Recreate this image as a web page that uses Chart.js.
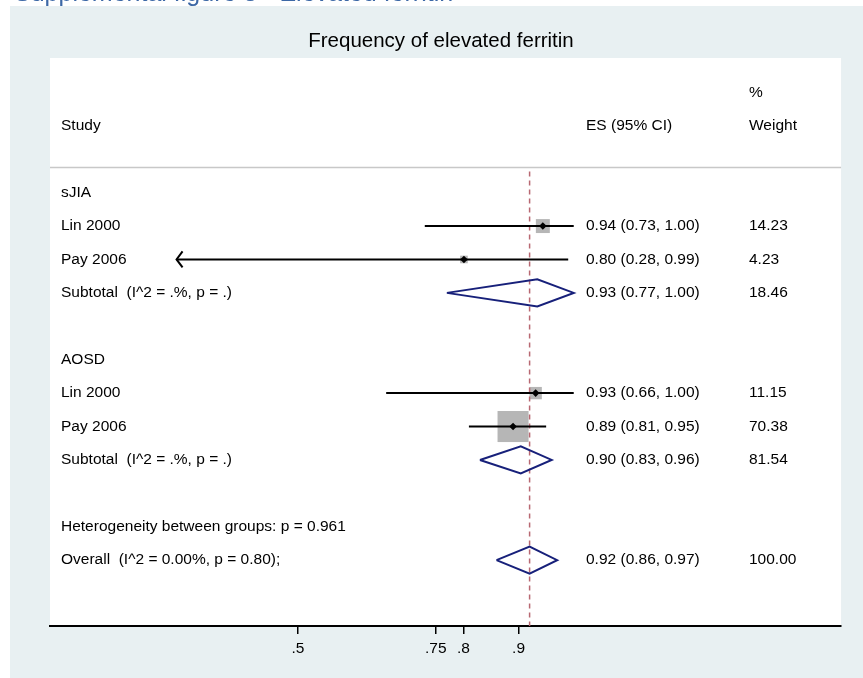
<!DOCTYPE html>
<html>
<head>
<meta charset="utf-8">
<script src="https://cdn.jsdelivr.net/npm/chart.js@4.4.0/dist/chart.umd.min.js"></script>
<style>
  html, body { margin: 0; padding: 0; background: #fff; }
  #wrap { width: 863px; height: 678px; }
</style>
</head>
<body>
<div id="wrap"><canvas id="forest"></canvas></div>
<script>
// data
const groups = ["sJIA", "AOSD"];
const studyNames = ["Lin 2000", "Pay 2006", "Lin 2000", "Pay 2006"];
const studyGroup = [0, 0, 1, 1];
const studyES = [0.944, 0.801, 0.931, 0.89];
const studyLo = [0.73, 0.28, 0.66, 0.81];
const studyHi = [1.0, 0.99, 1.0, 0.95];
const studyWeight = [14.23, 4.23, 11.15, 70.38];
const subtotalES = [0.934, 0.904];
const subtotalLo = [0.77, 0.83];
const subtotalHi = [1.0, 0.96];
const subtotalWeight = [18.46, 81.54];
const overallES = [0.92];
const overallLo = [0.86];
const overallHi = [0.97];
const overallWeight = [100];
const xTicks = [0.5, 0.75, 0.8, 0.9];
const xTickLabels = [".5", ".75", ".8", ".9"];

const subtotalLabel = "Subtotal  (I^2 = .%, p = .)";
const hetLabel = "Heterogeneity between groups: p = 0.961";
const overallLabel = "Overall  (I^2 = 0.00%, p = 0.80);";

const FONT = "'Liberation Sans', Arial, Helvetica, sans-serif";
const NAVY = "#17207a";
const BOX = "#b6b6b6";
const DASH = "#b86872";
const BG = "#e8f0f2";
const HALF = 0.405; // half height of diamonds, in rows

Chart.defaults.font.family = FONT;

// lay out the rows: group header, studies, subtotal, blank ...
const rows = [];
let r = 0;
groups.forEach((g, gi) => {
  rows.push({ row: r++, text: g, kind: "group" });
  studyNames.forEach((n, i) => {
    if (studyGroup[i] === gi) rows.push({ row: r++, text: n, kind: "study", i });
  });
  rows.push({ row: r++, text: subtotalLabel, kind: "subtotal", i: gi });
  r++;
});
rows.push({ row: r++, text: hetLabel, kind: "het" });
rows.push({ row: r++, text: overallLabel, kind: "overall", i: 0 });

const studyRows = rows.filter(x => x.kind === "study");
const poolRows = rows.filter(x => x.kind === "subtotal" || x.kind === "overall");

const fmt = v => v.toFixed(2);

function pooled(row) {
  if (row.kind === "overall") {
    return { es: overallES[0], lo: overallLo[0], hi: overallHi[0], w: overallWeight[0] };
  }
  return { es: subtotalES[row.i], lo: subtotalLo[row.i], hi: subtotalHi[row.i], w: subtotalWeight[row.i] };
}

const datasets = [];

// point estimates on top
datasets.push({
  data: studyRows.map(s => ({ x: studyES[s.i], y: s.row })),
  pointStyle: "rectRot",
  pointRadius: 3.8,
  backgroundColor: "#000",
  borderWidth: 0,
  order: 0
});

// confidence interval lines
studyRows.forEach(s => {
  datasets.push({
    data: [{ x: studyLo[s.i], y: s.row }, { x: studyHi[s.i], y: s.row }],
    showLine: true,
    borderColor: "#000",
    borderWidth: 2,
    pointRadius: 0,
    order: 1
  });
});

// pooled diamonds
poolRows.forEach(p => {
  const v = pooled(p);
  datasets.push({
    data: [
      { x: v.lo, y: p.row },
      { x: v.es, y: p.row - HALF },
      { x: v.hi, y: p.row },
      { x: v.es, y: p.row + HALF },
      { x: v.lo, y: p.row }
    ],
    showLine: true,
    borderColor: NAVY,
    borderWidth: 2,
    borderJoinStyle: "miter",
    pointRadius: 0,
    fill: false,
    order: 2
  });
});

// overall effect dashed line
datasets.push({
  data: [{ x: overallES[0], y: -0.63 }, { x: overallES[0], y: 13 }],
  showLine: true,
  borderColor: DASH,
  borderWidth: 1.5,
  borderDash: [5, 4],
  pointRadius: 0,
  order: 2
});

// weight boxes, area proportional to weight
datasets.push({
  data: studyRows.map(s => ({ x: studyES[s.i], y: s.row })),
  pointStyle: "rect",
  pointRadius: ctx => 3.7 * Math.sqrt(studyWeight[studyRows[ctx.dataIndex].i]) / Math.SQRT2,
  backgroundColor: BOX,
  borderWidth: 0,
  order: 3
});

const decor = {
  id: "decor",
  beforeDraw(chart) {
    const { ctx, chartArea: a, scales } = chart;
    const y = scales.y;
    ctx.save();
    ctx.fillStyle = "#fff";
    ctx.fillRect(0, 0, chart.width, chart.height);
    // caption above the figure, cut off by the page edge
    ctx.fillStyle = "#3d68a6";
    ctx.font = "25px " + FONT;
    ctx.textBaseline = "alphabetic";
    ctx.textAlign = "left";
    ctx.fillText("Supplemental figure 3 - Elevated ferritin", 14, 1);
    ctx.fillStyle = BG;
    ctx.fillRect(10, 6, chart.width - 10, chart.height - 6);
    ctx.fillStyle = "#fff";
    ctx.fillRect(a.left, a.top, a.right - a.left, a.bottom - a.top);
    // header rule
    ctx.strokeStyle = "#c8c8c8";
    ctx.lineWidth = 1.5;
    const hy = y.getPixelForValue(-0.75);
    ctx.beginPath();
    ctx.moveTo(a.left, hy);
    ctx.lineTo(a.right, hy);
    ctx.stroke();
    ctx.restore();
  },
  afterDatasetsDraw(chart) {
    const { ctx, scales } = chart;
    const x = scales.x, y = scales.y;
    ctx.save();
    ctx.strokeStyle = "#000";
    ctx.lineWidth = 2;
    studyRows.forEach(s => {
      if (studyLo[s.i] < xTicks[0]) {
        const px = x.getPixelForValue(studyLo[s.i]);
        const py = y.getPixelForValue(s.row);
        ctx.beginPath();
        ctx.moveTo(px + 6, py - 8);
        ctx.lineTo(px, py);
        ctx.lineTo(px + 6, py + 8);
        ctx.stroke();
      }
    });
    ctx.restore();
  },
  afterDraw(chart) {
    const { ctx, scales } = chart;
    const y = scales.y;
    const colLabel = 61, colES = 586, colW = 749;
    ctx.save();
    ctx.fillStyle = "#000";
    ctx.textBaseline = "middle";
    ctx.textAlign = "center";
    ctx.font = "20.5px " + FONT;
    ctx.fillText("Frequency of elevated ferritin", 441, 41);

    ctx.font = "15.5px " + FONT;
    ctx.textAlign = "left";
    ctx.fillText("%", colW, y.getPixelForValue(-3));
    ctx.fillText("Study", colLabel, y.getPixelForValue(-2));
    ctx.fillText("ES (95% CI)", colES, y.getPixelForValue(-2));
    ctx.fillText("Weight", colW, y.getPixelForValue(-2));

    rows.forEach(row => {
      const py = y.getPixelForValue(row.row);
      ctx.fillText(row.text, colLabel, py);
      let v = null;
      if (row.kind === "study") {
        v = { es: studyES[row.i], lo: studyLo[row.i], hi: studyHi[row.i], w: studyWeight[row.i] };
      } else if (row.kind === "subtotal" || row.kind === "overall") {
        v = pooled(row);
      }
      if (v) {
        ctx.fillText(fmt(v.es) + " (" + fmt(v.lo) + ", " + fmt(v.hi) + ")", colES, py);
        ctx.fillText(fmt(v.w), colW, py);
      }
    });
    ctx.restore();
  }
};

new Chart(document.getElementById("forest"), {
  type: "scatter",
  data: { datasets },
  options: {
    responsive: true,
    maintainAspectRatio: false,
    animation: false,
    events: [],
    layout: { padding: { left: 50, right: 19, top: 58, bottom: 18 } },
    plugins: { legend: { display: false }, tooltip: { enabled: false } },
    elements: { line: { tension: 0 } },
    scales: {
      x: {
        type: "linear",
        min: 0.0506,
        max: 1.4846,
        afterBuildTicks: s => { s.ticks = xTicks.map(v => ({ value: v })); },
        afterFit: s => { s.height = 34; },
        ticks: {
          autoSkip: false,
          maxRotation: 0,
          padding: 5,
          color: "#000",
          font: { size: 15.5 },
          callback: (v, i) => xTickLabels[i]
        },
        grid: { display: true, drawOnChartArea: false, drawTicks: true, tickLength: 8, color: "#000", lineWidth: 1.5 },
        border: { display: true, color: "#000", width: 2 }
      },
      y: {
        type: "linear",
        display: false,
        reverse: true,
        min: -4.03,
        max: 12.97
      }
    }
  },
  plugins: [decor]
});
</script>
</body>
</html>
